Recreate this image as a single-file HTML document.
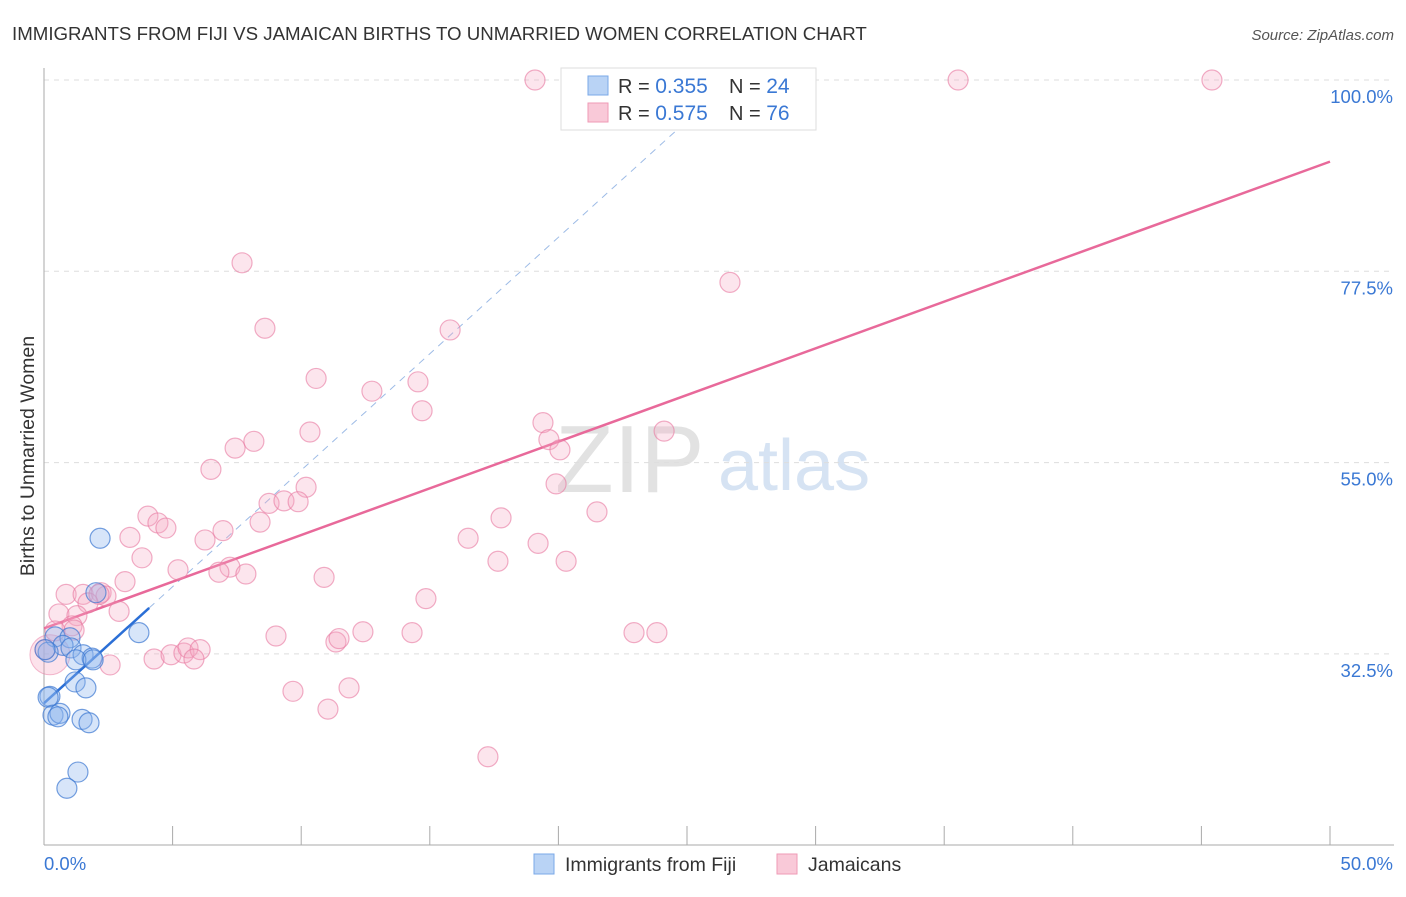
<!DOCTYPE html>
<html><head><meta charset="utf-8"><style>
body{margin:0;background:#fff;font-family:"Liberation Sans",sans-serif}
svg text{font-family:"Liberation Sans",sans-serif}
</style></head><body>
<svg id="chart" width="1406" height="892" xmlns="http://www.w3.org/2000/svg">
<text x="12" y="40" font-size="18.7" fill="#333">IMMIGRANTS FROM FIJI VS JAMAICAN BIRTHS TO UNMARRIED WOMEN CORRELATION CHART</text>
<text x="1394" y="40" font-size="15" fill="#555" text-anchor="end" font-style="italic">Source: ZipAtlas.com</text>
<text x="0" y="0" font-size="19.5" fill="#333" text-anchor="middle" transform="translate(34,456) rotate(-90)">Births to Unmarried Women</text>
<g>
<text x="555" y="492" font-size="96" fill="#e2e2e2" font-family="Liberation Serif,serif">ZIP</text>
<text x="718" y="490" font-size="72" fill="#d6e3f3">atlas</text>
</g>
<g id="grid"></g><g id="axes"></g><g id="trend"></g><g id="pts"></g>
<g>
<rect x="561" y="68" width="255" height="62" fill="#fff" stroke="#ddd"/>
<rect x="588" y="76" width="20" height="19" fill="#b9d3f5" stroke="#7aa8e8"/>
<rect x="588" y="103" width="20" height="19" fill="#f9c9d8" stroke="#ef9ab6"/>
<text x="618" y="93" font-size="20" fill="#333">R = <tspan fill="#3a78d4" font-size="21">0.355</tspan></text>
<text x="729" y="93" font-size="20" fill="#333">N = <tspan fill="#3a78d4" font-size="21">24</tspan></text>
<text x="618" y="120" font-size="20" fill="#333">R = <tspan fill="#3a78d4" font-size="21">0.575</tspan></text>
<text x="729" y="120" font-size="20" fill="#333">N = <tspan fill="#3a78d4" font-size="21">76</tspan></text>
</g>
<g>
<rect x="534" y="854" width="20" height="20" fill="#b9d3f5" stroke="#7aa8e8"/>
<text x="565" y="871" font-size="19.5" fill="#333">Immigrants from Fiji</text>
<rect x="777" y="854" width="20" height="20" fill="#f9c9d8" stroke="#ef9ab6"/>
<text x="808" y="871" font-size="19.5" fill="#333">Jamaicans</text>
</g>
</svg>
<script>
const fijiX=[2.18,2.02,3.69,0.43,1.01,0.74,1.05,1.52,1.87,1.24,0.16,0.23,0.16,1.21,1.63,0.35,0.62,1.48,1.75,1.32,0.89,0.54,0.04,1.91];
const fijiY=[46.1,39.7,35.0,34.5,34.4,33.5,33.2,32.4,32.0,31.8,32.7,27.5,27.4,29.2,28.5,25.3,25.5,24.8,24.4,18.6,16.7,25.1,33.0,31.8];
const jamX=[19.09,35.54,45.41,7.70,8.59,26.67,15.79,10.58,12.75,14.54,14.70,10.34,19.40,8.16,7.43,19.63,20.06,24.11,6.49,10.19,19.91,8.75,9.33,9.88,4.04,4.43,4.74,8.40,6.96,3.34,6.26,21.50,17.77,16.49,19.21,3.81,5.21,7.23,6.80,7.85,10.89,20.30,17.65,3.15,0.86,1.52,2.22,2.41,1.71,2.92,0.58,1.28,1.09,0.43,14.85,9.02,11.35,11.47,12.40,14.31,22.94,23.83,4.28,4.94,5.44,5.60,6.07,5.83,2.57,9.68,11.86,11.04,17.26,0.04,2.14,1.17];
const jamY=[100,100,100,78.5,70.8,76.2,70.6,64.9,63.4,64.5,61.1,58.6,59.7,57.5,56.7,57.7,56.5,58.7,54.2,52.1,52.5,50.2,50.5,50.4,48.7,47.9,47.3,48.0,47.0,46.2,45.9,49.2,48.5,46.1,45.5,43.8,42.4,42.7,42.1,41.9,41.5,43.4,43.4,41.0,39.5,39.5,39.7,39.3,38.5,37.5,37.2,37.0,35.8,35.2,39.0,34.6,33.9,34.3,35.1,35.0,35.0,35.0,31.9,32.4,32.6,33.2,33.0,31.9,31.2,28.1,28.5,26.0,20.4,33.0,39.5,35.3];
const bigX=[0.23];const bigY=[32.4];
const yTicks=[32.5,55.0,77.5,100.0];
const yTickLabels=["32.5%","55.0%","77.5%","100.0%"];
const xTickVals=[0,5,10,15,20,25,30,35,40,45,50];
const fijiTrend=[26.7,2.74];   // intercept, slope
const jamTrend=[35.5,1.098];
const NS="http://www.w3.org/2000/svg";
const X=v=>44+v*25.72, Y=v=>80+(100-v)*8.502;
function mk(t,a,p){const e=document.createElementNS(NS,t);for(const k in a)e.setAttribute(k,a[k]);p.appendChild(e);return e;}
const grid=document.getElementById('grid'),axes=document.getElementById('axes'),trend=document.getElementById('trend'),pts=document.getElementById('pts');
yTicks.forEach((v,i)=>{
 const l=mk('line',{x1:44,x2:1394,y1:Y(v),y2:Y(v),stroke:'#ddd','stroke-dasharray':'5,5'},grid);
 
 
 const t=mk('text',{x:1393,y:Y(v)+23,'font-size':18.5,fill:'#3a78d4','text-anchor':'end'},axes);
 t.textContent=yTickLabels[i];
 
 
});
const ya=mk('line',{x1:44,x2:44,y1:68,y2:845,stroke:'#aaa'},axes);


const xa=mk('line',{x1:44,x2:1394,y1:845,y2:845,stroke:'#aaa'},axes);


xTickVals.forEach(v=>{
 const t=mk('line',{x1:X(v),x2:X(v),y1:826,y2:845,stroke:'#aaa'},axes);
 
 
});
const xl0=mk('text',{x:44,y:870,'font-size':18.5,fill:'#3a78d4'},axes);xl0.textContent='0.0%';


const xl1=mk('text',{x:1393,y:870,'font-size':18.5,fill:'#3a78d4','text-anchor':'end'},axes);xl1.textContent='50.0%';


const fy=x=>fijiTrend[0]+fijiTrend[1]*x, jy=x=>jamTrend[0]+jamTrend[1]*x;
const bx=Math.max(...fijiX)+0.4;
const fd=mk('line',{x1:X(bx),y1:Y(fy(bx)),x2:X(25.5),y2:Y(fy(25.5)),stroke:'#9dbbe6','stroke-width':1,'stroke-dasharray':'7,6'},trend);


const fs=mk('line',{x1:X(0),y1:Y(fy(0)),x2:X(bx),y2:Y(fy(bx)),stroke:'#2b6fd6','stroke-width':2.5},trend);


const js=mk('line',{x1:X(0),y1:Y(jy(0)),x2:X(50),y2:Y(jy(50)),stroke:'#e8699a','stroke-width':2.5},trend);


bigX.forEach((v,i)=>{
 const c=mk('circle',{cx:X(v),cy:Y(bigY[i]),r:20,fill:'rgba(244,160,188,0.3)',stroke:'rgba(232,120,160,0.5)'},pts);
 
 
});
jamX.forEach((v,i)=>{
 const c=mk('circle',{cx:X(v),cy:Y(jamY[i]),r:10,fill:'rgba(244,170,196,0.3)',stroke:'rgba(232,120,160,0.6)','stroke-width':1.2},pts);
 
 
});
fijiX.forEach((v,i)=>{
 const c=mk('circle',{cx:X(v),cy:Y(fijiY[i]),r:10,fill:'rgba(140,180,238,0.35)',stroke:'rgba(60,120,210,0.7)','stroke-width':1.2},pts);
 
 
});
</script>
</body></html>
